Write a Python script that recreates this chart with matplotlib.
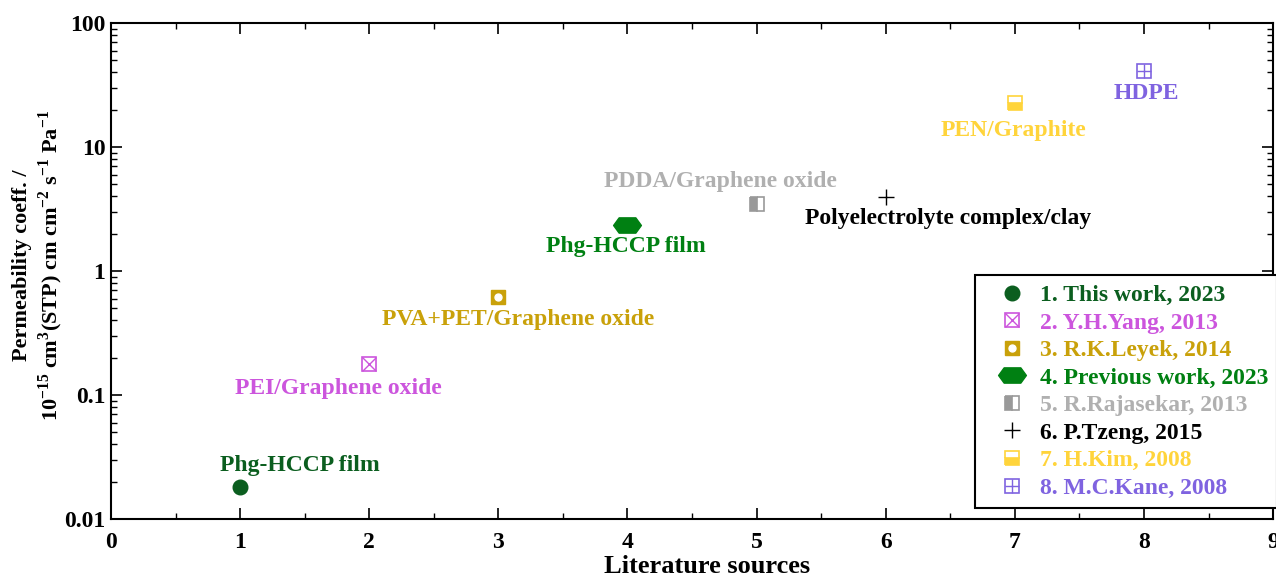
import matplotlib
matplotlib.use("Agg")
import matplotlib.pyplot as plt
from matplotlib.path import Path
from matplotlib.legend_handler import HandlerTuple
from matplotlib.ticker import LogLocator, NullFormatter, FixedLocator

plt.rcParams['font.family'] = ['Liberation Serif', 'DejaVu Serif']
plt.rcParams['font.weight'] = 'bold'
plt.rcParams['mathtext.fontset'] = 'custom'
plt.rcParams['mathtext.rm'] = 'Liberation Serif:bold'
plt.rcParams['mathtext.bf'] = 'Liberation Serif:bold'

# ---- data ----
sources = [1, 2, 3, 4, 5, 6, 7, 8]
permeability = [0.018, 0.178, 0.62, 2.35, 3.5, 3.95, 22.5, 41.0]
legend_labels = ["1. This work, 2023", "2. Y.H.Yang, 2013", "3. R.K.Leyek, 2014",
                 "4. Previous work, 2023", "5. R.Rajasekar, 2013", "6. P.Tzeng, 2015",
                 "7. H.Kim, 2008", "8. M.C.Kane, 2008"]
point_labels = ["Phg-HCCP film", "PEI/Graphene oxide", "PVA+PET/Graphene oxide",
                "Phg-HCCP film", "PDDA/Graphene oxide", "Polyelectrolyte complex/clay",
                "PEN/Graphite", "HDPE"]
label_x = [1.46, 1.76, 3.15, 3.99, 4.72, 6.48, 6.99, 8.02]
label_y = [0.0272, 0.112, 0.403, 1.59, 5.32, 2.63, 13.7, 27.2]
colors = ['#0b5e1f', '#cc55dd', '#c9a10a', '#008012', '#b0b0b0', '#000000', '#ffd43b', '#7f63e0']

hexagon = Path([(-1, 0), (-0.6, 0.55), (0.6, 0.55), (1, 0), (0.6, -0.55), (-0.6, -0.55), (-1, 0)],
               [Path.MOVETO] + [Path.LINETO] * 5 + [Path.CLOSEPOLY])

fig = plt.figure(figsize=(12.76, 5.77), dpi=100)
ax = fig.add_axes([0.087, 0.1005, 0.9107, 0.8595])
ax.set_yscale('log')
ax.set_xlim(0, 9)
ax.set_ylim(0.01, 100)

ms = 10
handles = []
# 1
h = ax.plot(sources[0], permeability[0], 'o', ms=10.5, color=colors[0], ls='none')[0]
handles.append(h)
# 2 square with x
a = ax.plot(sources[1], permeability[1], 's', ms=ms, mfc='none', mec=colors[1], mew=1.2, ls='none')[0]
b = ax.plot(sources[1], permeability[1], 'x', ms=ms * 0.95, mec=colors[1], mew=1.0, ls='none')[0]
handles.append((a, b))
# 3 square with white circle
a = ax.plot(sources[2], permeability[2], 's', ms=ms, mfc=colors[2], mec=colors[2], ls='none')[0]
b = ax.plot(sources[2], permeability[2], 'o', ms=ms * 0.5, mfc='white', mec='white', ls='none')[0]
handles.append((a, b))
# 4 hexagon
h = ax.plot(sources[3], permeability[3], marker=hexagon, ms=20, color=colors[3], ls='none')[0]
handles.append(h)
# 5 half filled left
h = ax.plot(sources[4], permeability[4], 's', ms=ms, fillstyle='left', mfc='#999999',
            mfcalt='white', mec='#999999', mew=1.2, ls='none')[0]
handles.append(h)
# 6 plus
h = ax.plot(sources[5], permeability[5], '+', ms=12, mec=colors[5], mew=1.0, ls='none')[0]
handles.append(h)
# 7 half filled bottom
h = ax.plot(sources[6], permeability[6], 's', ms=ms, fillstyle='bottom', mfc=colors[6],
            mfcalt='white', mec=colors[6], mew=1.2, ls='none')[0]
handles.append(h)
# 8 square with +
a = ax.plot(sources[7], permeability[7], 's', ms=ms, mfc='none', mec=colors[7], mew=1.2, ls='none')[0]
b = ax.plot(sources[7], permeability[7], '+', ms=ms, mec=colors[7], mew=1.0, ls='none')[0]
handles.append((a, b))

for t, x, y, c in zip(point_labels, label_x, label_y, colors):
    ax.text(x, y, t, color=c, fontsize=17, fontweight='bold', ha='center', va='center')

ax.set_xlabel("Literature sources", fontsize=19, fontweight='bold')
ax.xaxis.set_label_coords(0.513, -0.072)
ax.set_ylabel("Permeability coeff. /\n10$^{\\mathregular{-15}}$ cm$^{\\mathregular{3}}$(STP) cm cm$^{\\mathregular{-2}}$ s$^{\\mathregular{-1}}$ Pa$^{\\mathregular{-1}}$",
              fontsize=16, fontweight='bold')
ax.yaxis.set_label_coords(-0.0396, 0.512)

ax.xaxis.set_major_locator(FixedLocator(list(range(0, 10))))
ax.xaxis.set_minor_locator(FixedLocator([i + 0.5 for i in range(9)]))
ax.set_yticks([0.01, 0.1, 1, 10, 100])
ax.set_yticklabels(["0.01", "0.1", "1", "10", "100"])
ax.yaxis.set_minor_locator(LogLocator(base=10, subs=range(2, 10)))
ax.yaxis.set_minor_formatter(NullFormatter())
ax.tick_params(which='both', direction='in', top=True, right=True, labelsize=17)
ax.tick_params(which='major', length=8, width=1.2)
ax.tick_params(axis='x', which='major', pad=9)
ax.tick_params(axis='y', which='major', pad=4)
ax.tick_params(which='minor', length=4, width=1.0)
for lab in ax.get_xticklabels() + ax.get_yticklabels():
    lab.set_fontweight('bold')
for s in ax.spines.values():
    s.set_linewidth(1.5)

leg = ax.legend(handles, legend_labels, handler_map={tuple: HandlerTuple(ndivide=1)},
                loc='upper left', bbox_to_anchor=(0.764, 1 - 275 / 577), bbox_transform=fig.transFigure,
                borderaxespad=0, fancybox=False, edgecolor='black', framealpha=1,
                prop={'size': 17, 'weight': 'bold'}, labelspacing=0.255,
                handlelength=2.34, handletextpad=0.0, borderpad=0.4)
leg.get_frame().set_linewidth(1.5)
for txt, c in zip(leg.get_texts(), colors):
    txt.set_color(c)

fig.savefig("out.png", dpi=100)
